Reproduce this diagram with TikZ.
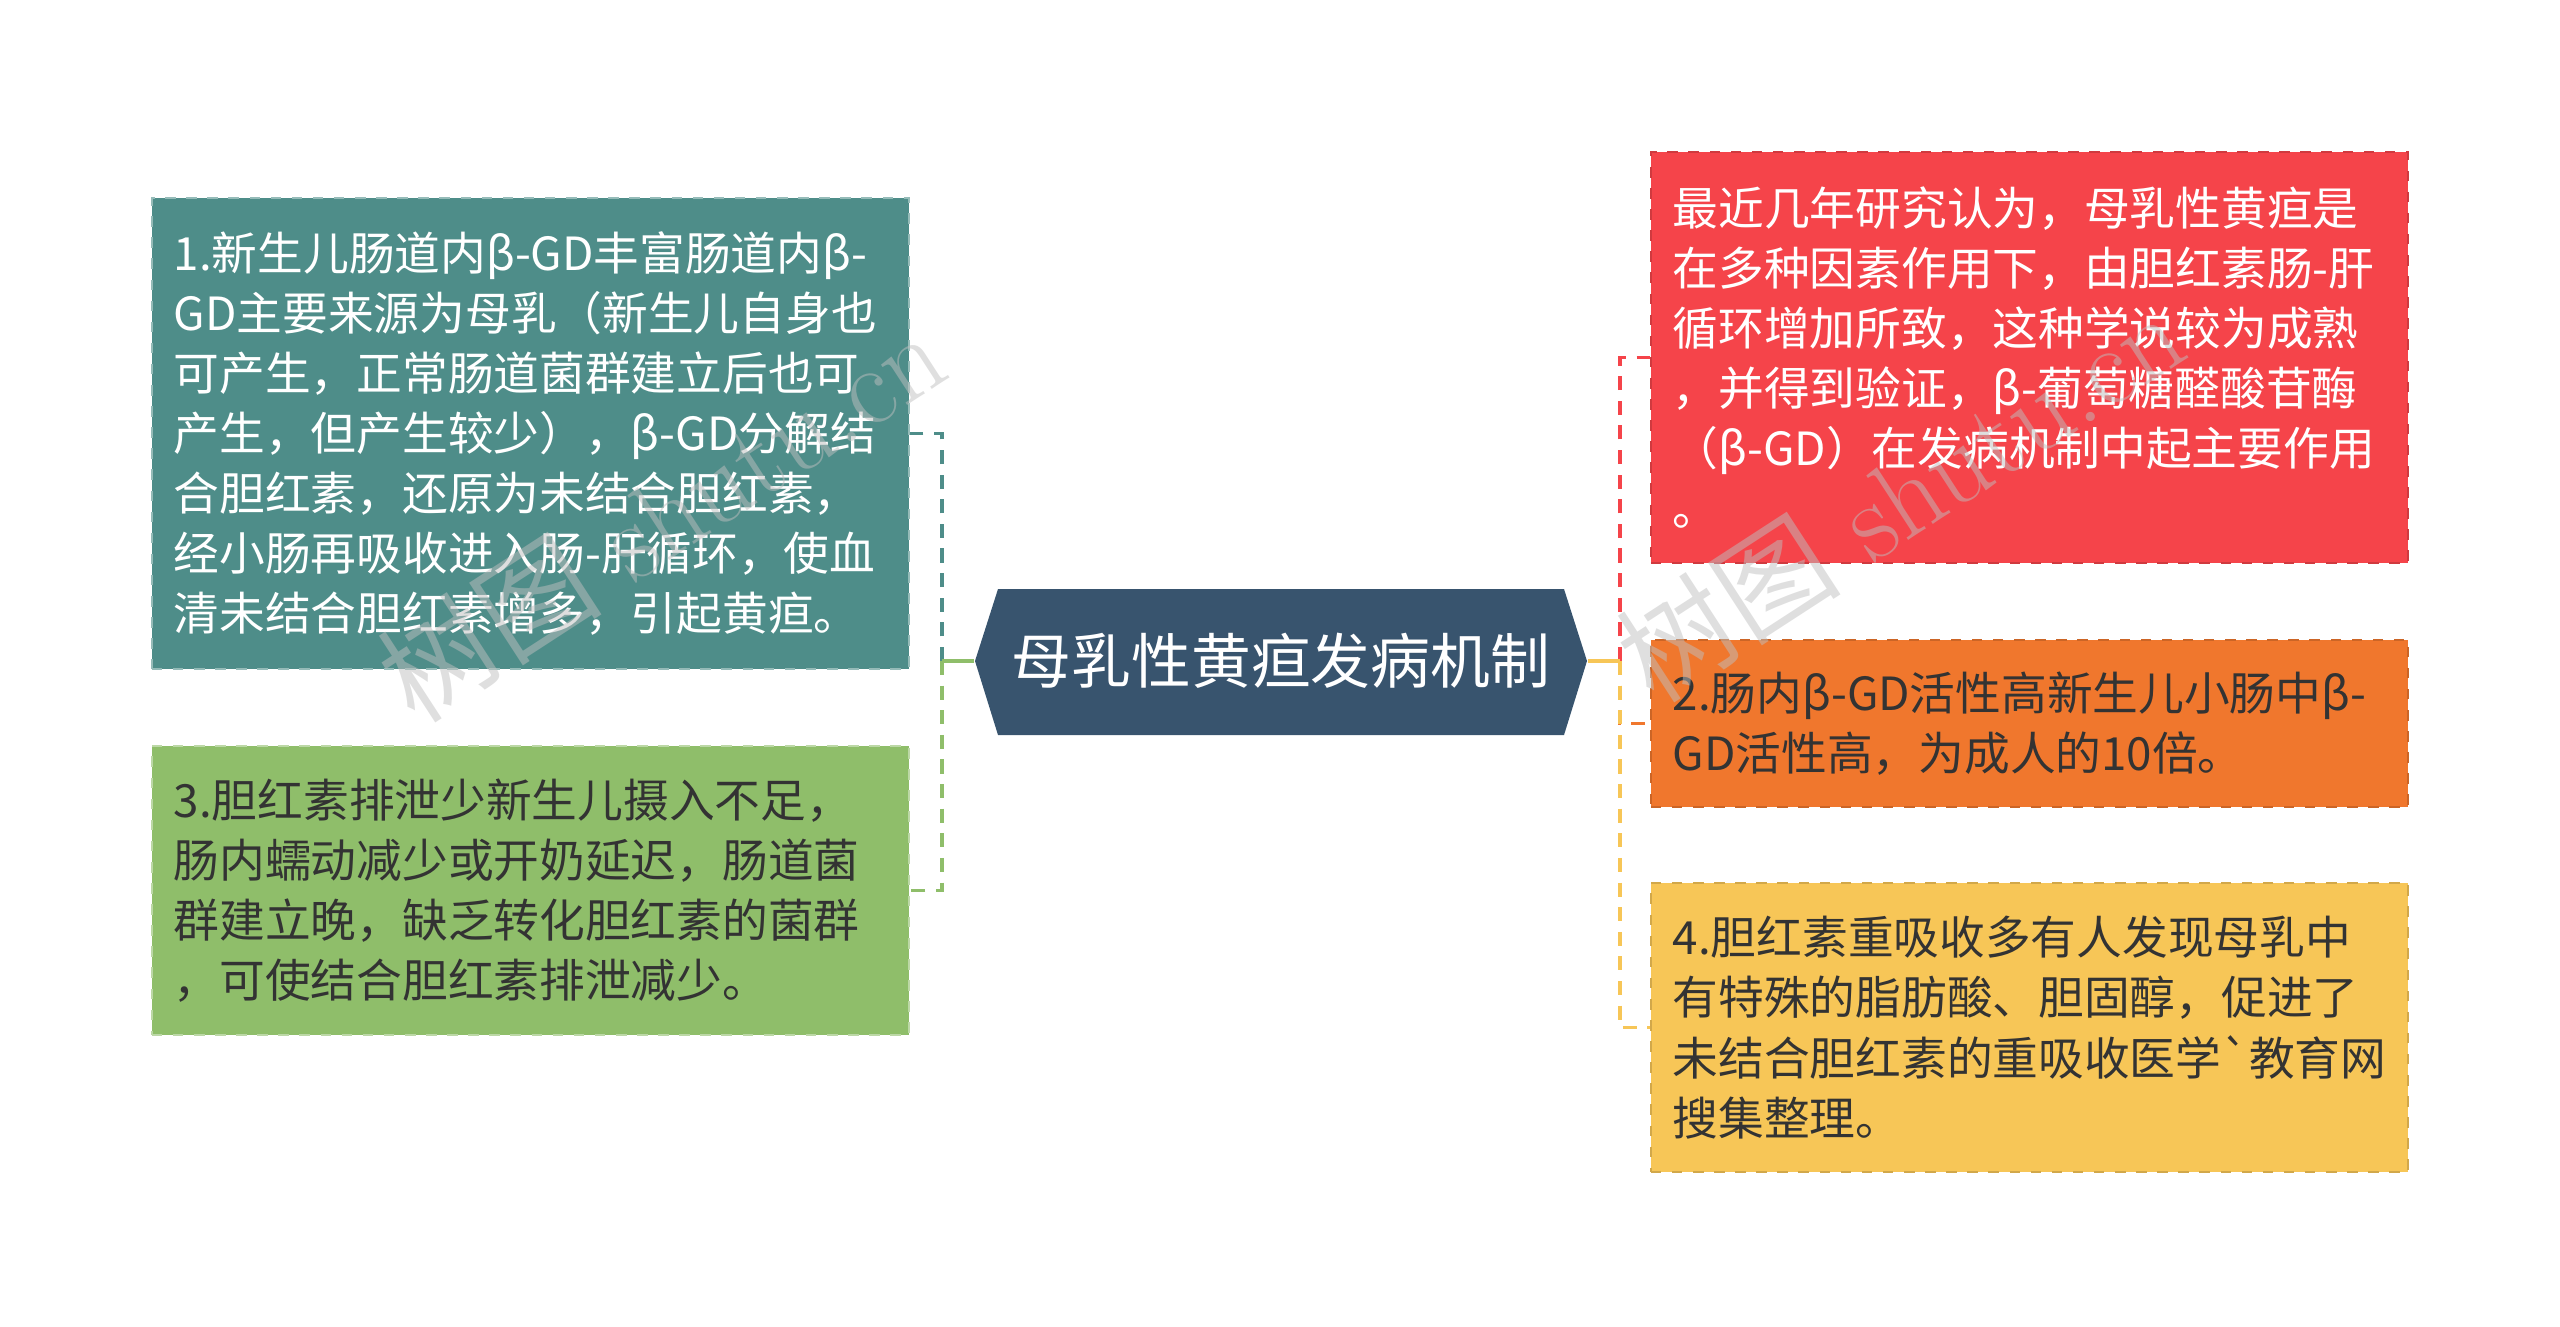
\documentclass[tikz,border=0pt]{standalone}
\usepackage{fontspec}
\usepackage{xcolor}
\usepackage{tikz}
\newfontfamily\cjk{Noto Sans CJK SC}[Ligatures=TeXOff]
\definecolor{rootnavy}{HTML}{38546E}
\definecolor{tealbox}{HTML}{4E8D89}
\definecolor{greenbox}{HTML}{8FBE6A}
\definecolor{redbox}{HTML}{F5444A}
\definecolor{orangebox}{HTML}{F0772D}
\definecolor{yellowbox}{HTML}{F7C657}
\definecolor{darktext}{HTML}{333333}
\exhyphenpenalty=10000

\begin{document}
\begin{tikzpicture}[x=0.01cm, y=-0.01cm,
    leaf/.style={rectangle, dashed, line width=0.7pt, minimum width=7.57cm,
      text width=7.13cm, inner xsep=0.22cm, inner ysep=0pt, align=left,
      font=\cjk\fontsize{13}{17.1}\selectfont},
    roottext/.style={minimum width=6.12cm, minimum height=1.46cm, inner sep=0pt,
      text=white, font=\cjk\fontsize{17}{20}\selectfont},
    link/.style={line width=1pt, dash pattern=on 4pt off 3pt},
    watermark/.style={rotate=33, text=gray!50, opacity=0.5,
      font=\fontsize{32}{32}\selectfont}]
    \useasboundingbox (0,0) rectangle (2560,1326);

    % centre
    \fill[rootnavy] (998,589) -- (1564,589) -- (1587,661) -- (1564,735) -- (998,735) -- (975,661) -- cycle;
    \node (root) [roottext] at (1281,661) {母乳性黄疸发病机制};
    \coordinate (lj) at (942,661);
    \coordinate (rj) at (1620,661);

    % left side
    \node (m1) [leaf, fill=tealbox, draw=tealbox!60!white, text=white, minimum height=4.71cm] at (530.5,433.5)
        {1.新生儿肠道内β-GD丰富肠道内β-\\GD主要来源为母乳（新生儿自身也\\可产生，正常肠道菌群建立后也可\\产生，但产生较少），β-GD分解结\\合胆红素，还原为未结合胆红素，\\经小肠再吸收进入肠-肝循环，使血\\清未结合胆红素增多，引起黄疸。};
    \node (m3) [leaf, fill=greenbox, draw=greenbox!60!white, text=darktext, minimum height=2.89cm] at (530.5,890.5)
        {3.胆红素排泄少新生儿摄入不足，\\肠内蠕动减少或开奶延迟，肠道菌\\群建立晚，缺乏转化胆红素的菌群\\，可使结合胆红素排泄减少。};

    % right side
    \node (m0) [leaf, fill=redbox, draw=redbox!85!black, text=white, minimum height=4.11cm] at (2029.5,357.5)
        {最近几年研究认为，母乳性黄疸是\\在多种因素作用下，由胆红素肠-肝\\循环增加所致，这种学说较为成熟\\，并得到验证，β-葡萄糖醛酸苷酶\\（β-GD）在发病机制中起主要作用\\。};
    \node (m2) [leaf, fill=orangebox, draw=orangebox!85!black, text=darktext, minimum height=1.67cm] at (2029.5,723.5)
        {2.肠内β-GD活性高新生儿小肠中β-\\GD活性高，为成人的10倍。};
    \node (m4) [leaf, fill=yellowbox, draw=yellowbox!85!black, text=darktext, minimum height=2.89cm] at (2029.5,1027.5)
        {4.胆红素重吸收多有人发现母乳中\\有特殊的脂肪酸、胆固醇，促进了\\未结合胆红素的重吸收医学`教育网\\搜集整理。};

    \draw[link, tealbox] (lj) |- (m1.east);
    \draw[link, greenbox] (lj) |- (m3.east);
    \draw[line width=1pt, greenbox] (root.west) -- (lj);

    \draw[link, redbox] (rj) |- (m0.west);
    \draw[link, orangebox] (rj) |- (m2.west);
    \draw[link, yellowbox] (rj) |- (m4.west);
    \draw[line width=1pt, yellowbox] (root.east) -- (rj);

    % watermark
    \node (wm1) [watermark] at (661,515) {{\cjk 树图} shutu.cn};
    \node (wm2) [watermark] at (1900,495) {{\cjk 树图} shutu.cn};
\end{tikzpicture}
\end{document}
